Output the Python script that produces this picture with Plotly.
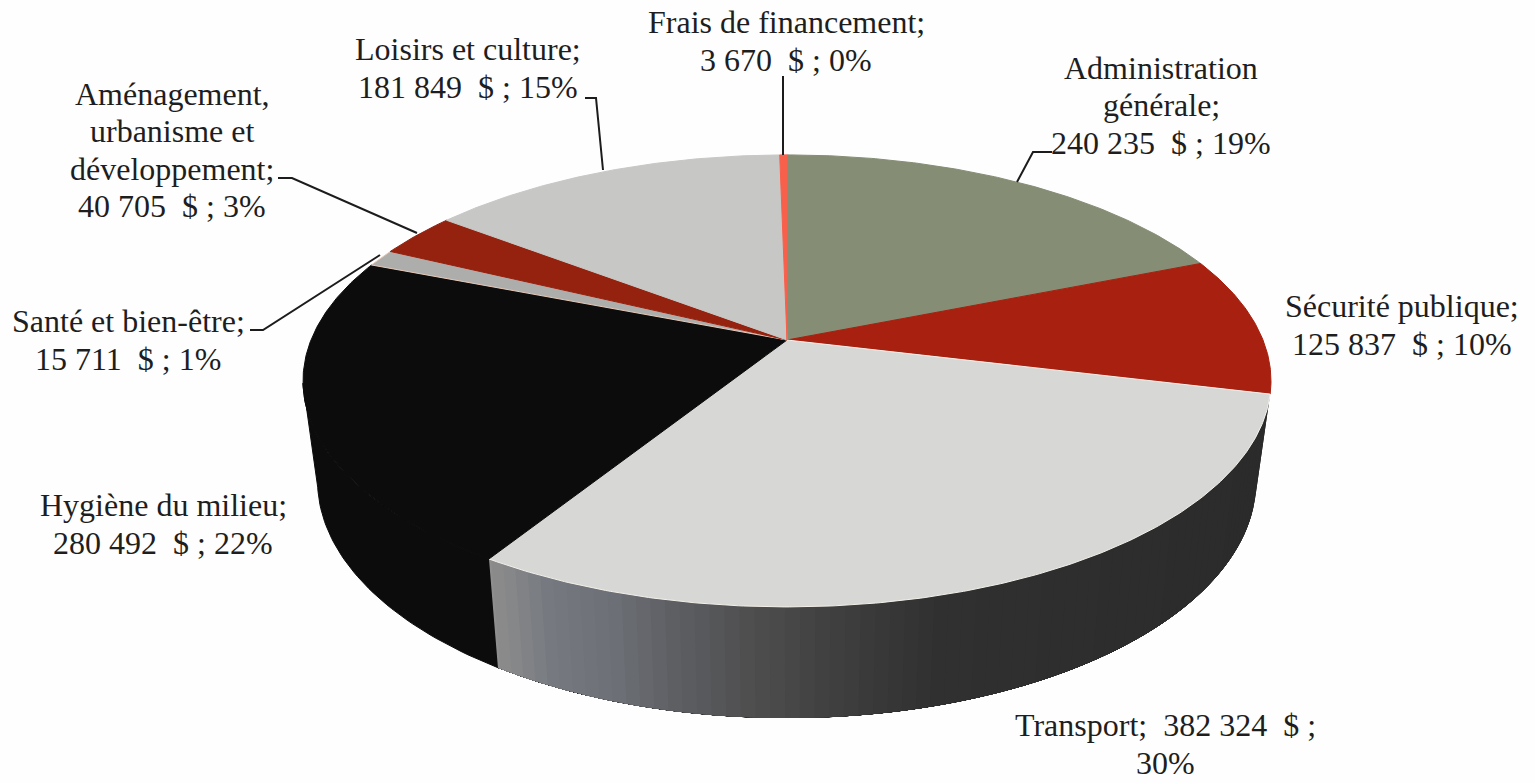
import numpy as np
import plotly.graph_objects as go

# ---- data (clockwise from 12 o'clock) ----
categories = ["Administration<br>générale", "Sécurité publique", "Transport", "Hygiène du milieu",
              "Santé et bien-être", "Aménagement,<br>urbanisme et<br>développement", "Loisirs et culture",
              "Frais de financement"]
values = [240235, 125837, 382324, 280492, 15711, 40705, 181849, 3670]
percents = [19, 10, 30, 22, 1, 3, 15, 0]
colors = ["#858d75", "#a8200f", "#d7d8d6", "#0c0c0c", "#adaeac", "#95210f", "#c7c8c5", "#f8604c"]
sep_name = ["<br>", "<br>", "\u00a0\u00a0", "<br>", "<br>", "<br>", "<br>", "<br>"]
sep_pct = [" ", " ", "<br>", " ", " ", " ", " ", " "]
label_x = [1161, 1402, 1165, 163, 128, 172, 468, 786]
label_y = [105, 325, 744, 524, 340, 150, 68, 41]

leaders = [
    ([1052, 1033, 1017], [152, 152, 182]),
    ([585, 596, 603], [98, 98, 170]),
    ([278, 292, 417], [178, 178, 233]),
    ([250, 263, 380], [330, 330, 255]),
    ([783, 783], [76, 155]),
]

# ---- projection of the tilted disc ----
CX, CY = 787, 340
A, B, K = 476, 218.6, 0.181
S_BOTTOM, H = 0.97, 97.6
LINE_GAP = 37.5


def project(deg, level=0.0):
    t = np.radians(deg)
    u, v = np.sin(t), -np.cos(t)
    w = 1 - K * v
    s = 1 - (1 - S_BOTTOM) * level
    return CX + s * A * u / w, CY + (s * B * v + H * level) / w


def lerp_color(x, stops):
    xs = [p[0] for p in stops]
    rgb = [np.interp(x, xs, [int(p[1][i:i + 2], 16) for p in stops]) for i in (1, 3, 5)]
    return "rgb(%d,%d,%d)" % tuple(int(round(c)) for c in rgb)


wall_stops = [(487, "#8f8f8f"), (515, "#868788"), (550, "#777a80"), (620, "#6c6f75"), (680, "#5e5f63"),
              (760, "#4e4e4f"), (850, "#3e3e3e"), (950, "#303030"), (1270, "#2b2b2b")]

total = sum(values)
edges = np.concatenate([[0], np.cumsum(values)]) / total * 360

fig = go.Figure()

# side wall of Transport: each band runs to the far end, so that the next one overlaps it without a seam
for a in np.arange(edges[2], edges[3], 1.5):
    arc = np.linspace(a, edges[3], 60)
    xt, yt = project(arc, 0)
    xb, yb = project(arc[::-1], 1)
    col = lerp_color(float(xt[0]), wall_stops)
    fig.add_trace(go.Scatter(x=list(xt) + list(xb), y=list(yt) + list(yb), mode="lines", fill="toself",
                             fillcolor=col, line=dict(width=0), hoverinfo="skip", showlegend=False))

# side wall of Hygiène (drawn up to the silhouette of the disc)
arc = np.arange(edges[3], 260, 1.0)
xt, yt = project(arc, 0)
xb, yb = project(arc[::-1], 1)
fig.add_trace(go.Scatter(x=list(xt) + list(xb), y=list(yt) + list(yb), mode="lines", fill="toself",
                         fillcolor=colors[3], line=dict(color=colors[3], width=1), hoverinfo="skip", showlegend=False))

# top faces
for i, col in enumerate(colors):
    arc = np.linspace(edges[i], edges[i + 1], max(3, int((edges[i + 1] - edges[i]) * 2)))
    xa, ya = project(arc)
    line_col = {2: "#f4f0ea", 3: "#0c0c0c", 4: "#e8c8b8", 5: "#95210f"}.get(i, col)
    fig.add_trace(go.Scatter(x=[CX] + list(xa) + [CX], y=[CY] + list(ya) + [CY], mode="lines", fill="toself",
                             fillcolor=col, line=dict(color=line_col, width=1), hoverinfo="skip", showlegend=False))

# leader lines
for lx, ly in leaders:
    fig.add_trace(go.Scatter(x=lx, y=ly, mode="lines", line=dict(color="#1c1c1c", width=2),
                             hoverinfo="skip", showlegend=False))

# labels (one annotation per line, to hold the tight line spacing)
for i, name in enumerate(categories):
    money = f"{values[i]:,}".replace(",", "\u00a0") + "\u00a0\u00a0$\u00a0;"
    text = f"{name};{sep_name[i]}{money}{sep_pct[i]}{percents[i]}%"
    lines = text.split("<br>")
    for j, line in enumerate(lines):
        fig.add_annotation(x=label_x[i], y=label_y[i] + (j - (len(lines) - 1) / 2) * LINE_GAP, text=line,
                           showarrow=False, xanchor="center", yanchor="middle",
                           font=dict(family="Liberation Serif", size=32, color="#1e1e1e"))

fig.update_layout(
    width=1535, height=783, margin=dict(l=0, r=0, t=0, b=0),
    paper_bgcolor="#fefefe", plot_bgcolor="#fefefe", showlegend=False,
    xaxis=dict(range=[0, 1535], visible=False, fixedrange=True),
    yaxis=dict(range=[783, 0], visible=False, fixedrange=True),
)
fig.write_html("out.html", post_script="document.body.style.margin='0';", config={"displayModeBar": False})
